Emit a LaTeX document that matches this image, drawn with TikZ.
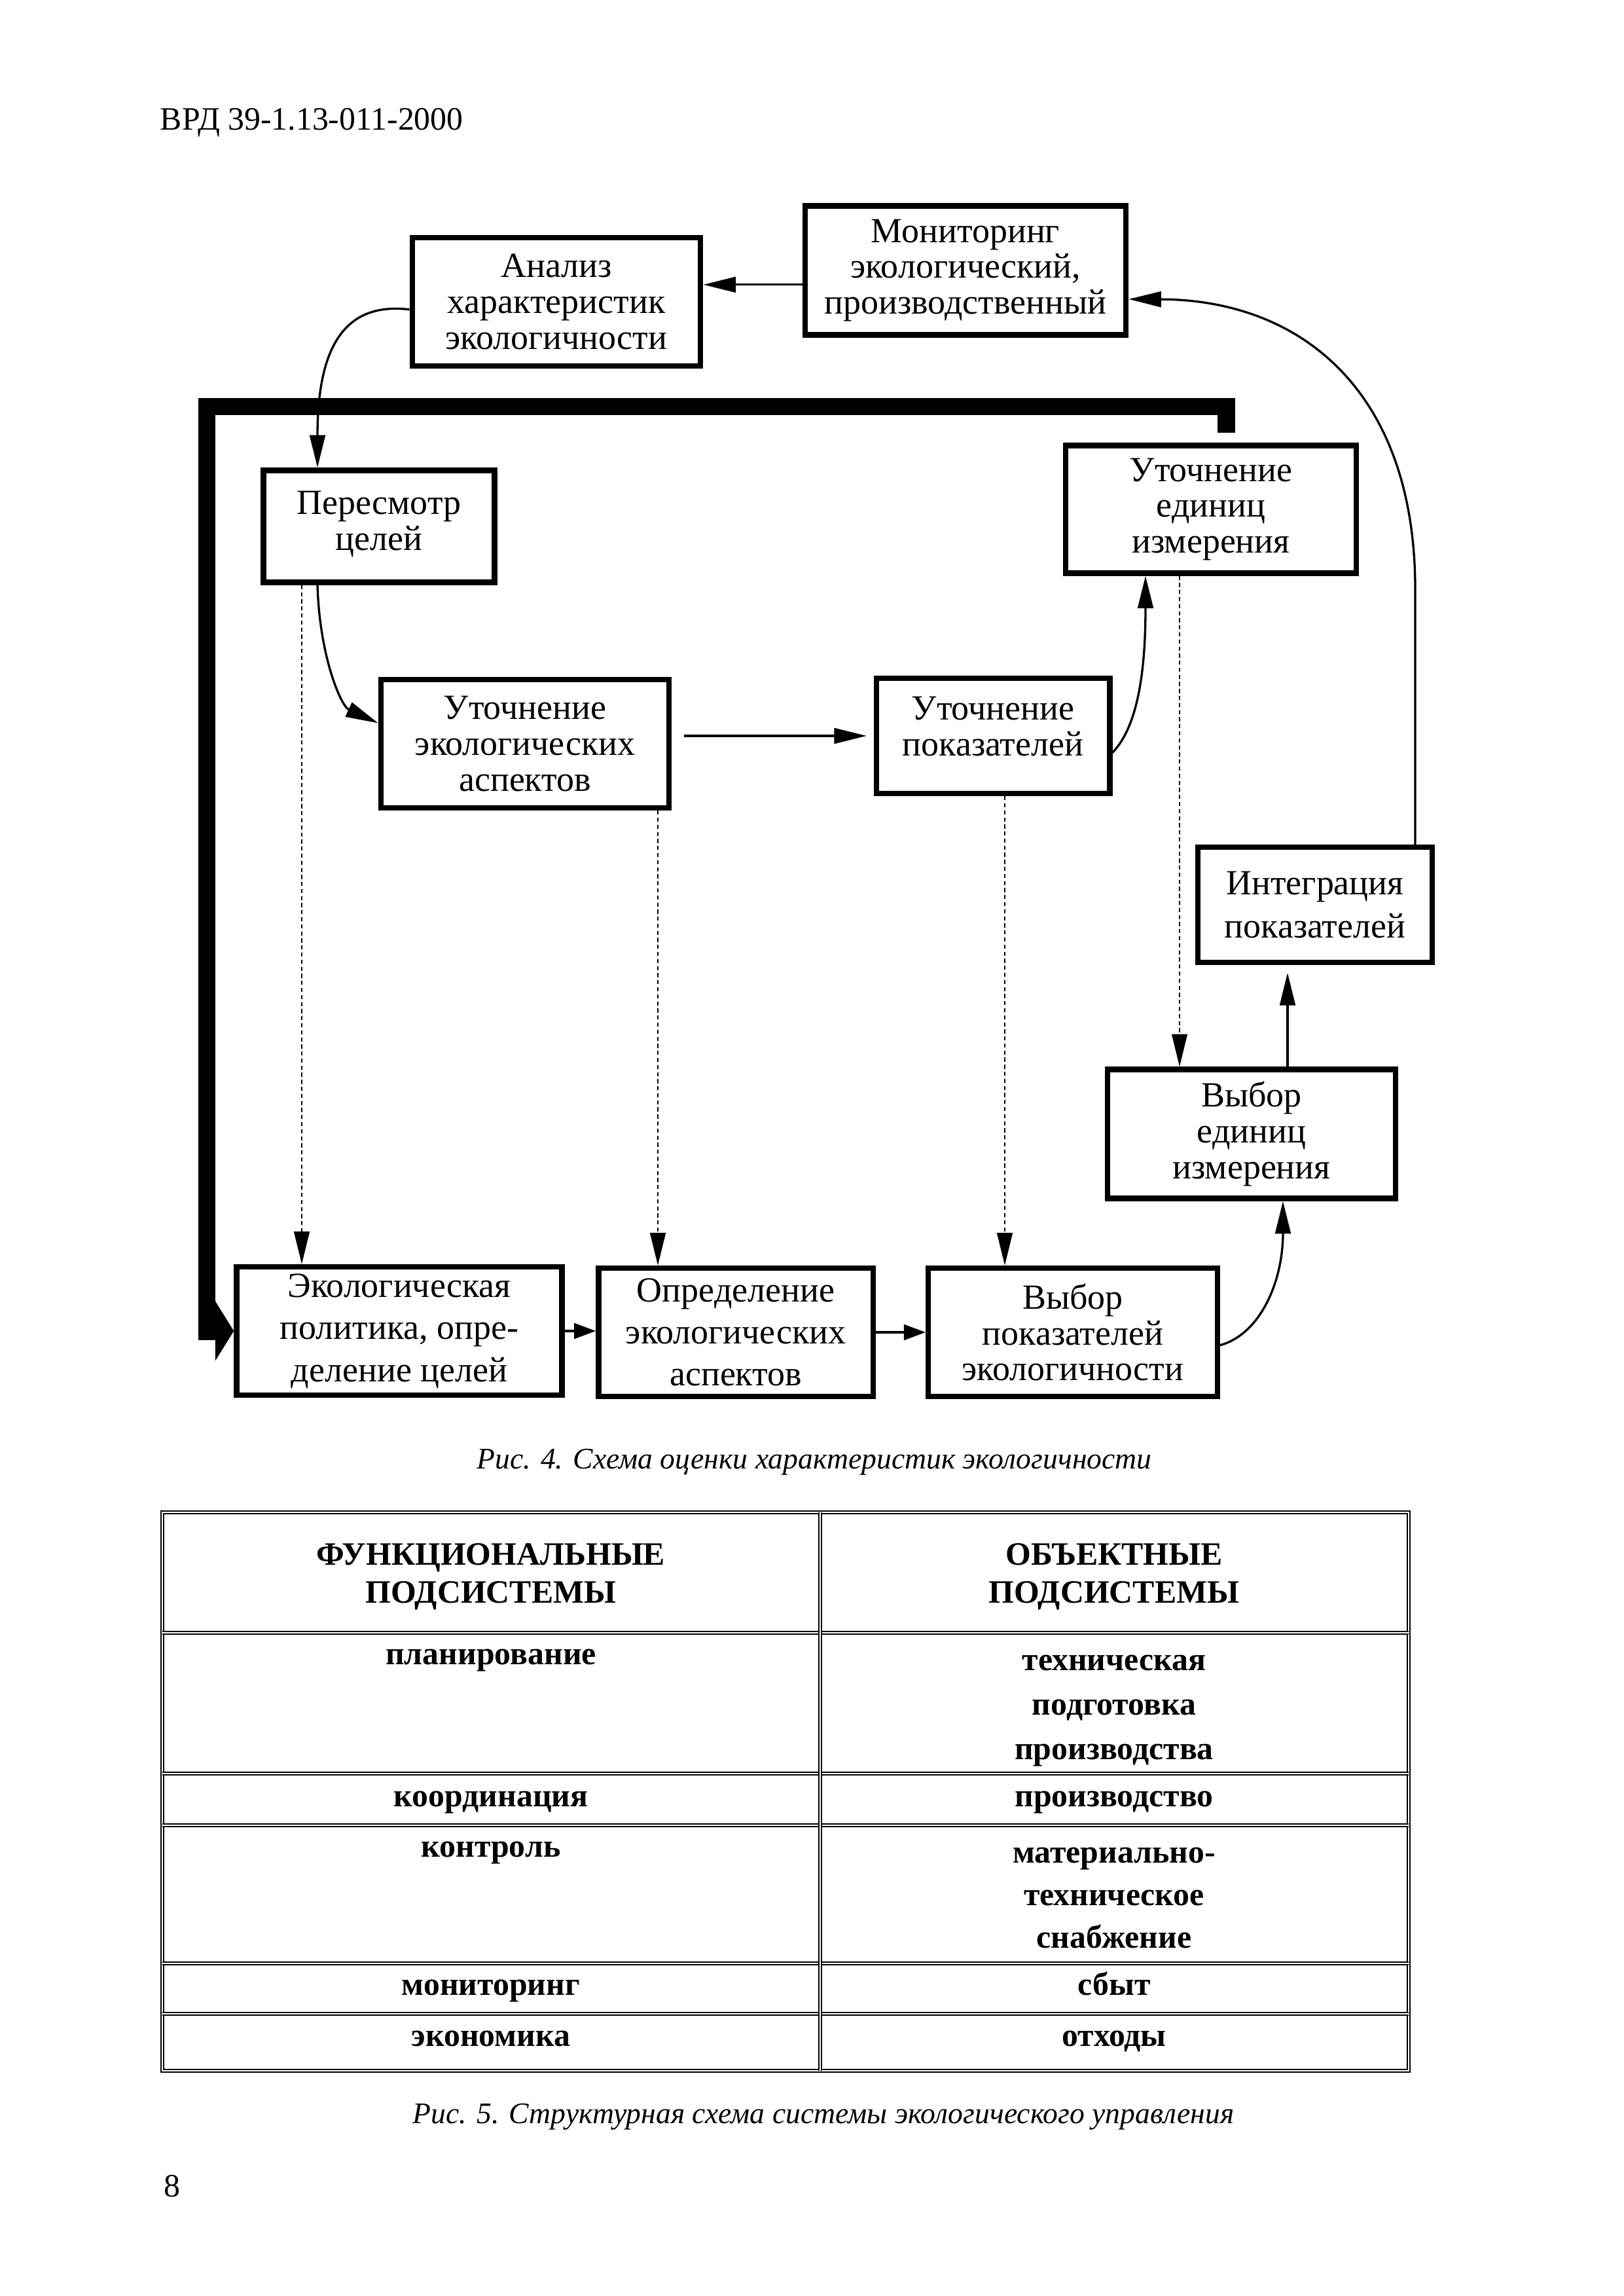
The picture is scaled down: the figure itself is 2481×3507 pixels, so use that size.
\documentclass[tikz,border=0pt]{standalone}
\usepackage{fontspec}
\setmainfont{Liberation Serif}
\usetikzlibrary{arrows.meta,calc}
\newcommand\boxfont{\fontsize{13}{13.2}\selectfont}
\tikzset{
  block/.style = {draw, line width=2pt, fill=white, rectangle, align=center, inner sep=0pt, font=\boxfont},
  link/.style = {->, line width=0.8pt},
  shortlink/.style = {-{Triangle[length=2.8mm,width=2mm]}, line width=0.8pt},
  dotlink/.style = {->, line width=0.6pt, dash pattern=on 1.5pt off 1.1pt},
  bus/.style = {-{Triangle[length=2.4mm,width=7.6mm]}, line width=6.5pt},
  grid/.style = {double, line width=0.55pt, double distance=0.55pt},
  cell/.style = {anchor=base, font=\bfseries\fontsize{12}{14}\selectfont},
  caption/.style = {anchor=base, font=\itshape\fontsize{11}{13}\selectfont},
  plain/.style = {anchor=base west, inner sep=0pt, font=\fontsize{12}{14}\selectfont},
}

\begin{document}
\begin{tikzpicture}[x=0.084667mm, y=-0.084667mm, >={Triangle[length=4.2mm,width=2mm]}]
    \useasboundingbox (0,0) rectangle (2481,3507);
    \node [plain] (doc) at (244,198) {ВРД 39-1.13-011-2000};

    % Fig. 4 boxes
    \node [block, minimum width=37.3mm, minimum height=16.6mm] (analiz) at (850,461) {Анализ\\характеристик\\экологичности};
    \node [block, minimum width=41.5mm, minimum height=16.7mm] (monitor) at (1475,413) {Мониторинг\\экологический,\\производственный};
    \node [block, minimum width=29.9mm, minimum height=14.5mm] (peresmotr) at (579,804) {Пересмотр\\целей\\[-9pt]};
    \node [block, minimum width=37.6mm, minimum height=16.5mm] (utoched) at (1850,778) {Уточнение\\единиц\\измерения};
    \node [block, minimum width=37.3mm, minimum height=16.6mm] (utochasp) at (802,1136) {Уточнение\\экологических\\аспектов};
    \node [block, minimum width=30.2mm, minimum height=14.9mm] (utochpok) at (1517,1124) {Уточнение\\показателей\\[-6pt]};
    \node [block, minimum width=30.3mm, minimum height=14.9mm] (integr) at (2009,1382) {Интеграция\\[2.5pt]показателей};
    \node [block, minimum width=37.3mm, minimum height=16.7mm] (vybored) at (1912,1732) {Выбор\\единиц\\измерения};
    \node [block, minimum width=42.1mm, minimum height=16.6mm, font=\fontsize{13}{15.5}\selectfont] (ekopol) at (610,2033) {Экологическая\\политика, опре-\\деление целей};
    \node [block, minimum width=35.5mm, minimum height=16.6mm, font=\fontsize{13}{15.5}\selectfont] (opred) at (1124,2035) {Определение\\экологических\\аспектов};
    \node [block, minimum width=37.4mm, minimum height=16.6mm] (vyborpok) at (1639,2035) {Выбор\\показателей\\экологичности};

    % x positions of the vertical links
    \coordinate (dash1) at (461,0);
    \coordinate (dash2) at (1005,0);
    \coordinate (dash3) at (1535,0);
    \coordinate (dash4) at (1802,0);
    \coordinate (in1) at (485,0);
    \coordinate (in2) at (1750,0);
    \coordinate (in3) at (1967,0);
    \coordinate (in4) at (1960,0);
    \coordinate (ret) at (2162,0);
    \coordinate (busend) at (1873,661);

    % thick feedback line
    \draw [bus] (busend) |- (316,621) |- (ekopol.west);

    \draw [link] (monitor.185) -- (monitor.185 -| analiz.east);
    \draw [link] (analiz.183) .. controls (520,460) and (485,540) .. (peresmotr.north -| in1);
    \draw [link] (peresmotr.south -| in1) .. controls (488,1000) and (520,1078) .. (utochasp.172);
    \draw [link, shorten <=1.6mm, shorten >=0.9mm] (utochasp.east |- utochpok.west) -- (utochpok.west);
    \draw [link] (utochpok.352) .. controls (1740,1108) and (in2 |- 0,1018) .. (utoched.south -| in2);
    \draw [link] (ret |- integr.north) -- (ret |- 0,900) .. controls (2162,600) and (1990,458) .. (monitor.350);
    \draw [link, shorten >=1mm] (vybored.north -| in3) -- (integr.south -| in3);
    \draw [link] (vyborpok.355) .. controls (1925,2038) and (in4 |- 0,1958) .. (vybored.south -| in4);
    \draw [shortlink] (ekopol.east) -- (ekopol.east -| opred.west);
    \draw [shortlink] (opred.east) -- (opred.east -| vyborpok.west);

    \draw [dotlink] (peresmotr.south -| dash1) -- (ekopol.north -| dash1);
    \draw [dotlink] (utochasp.south -| dash2) -- (opred.north -| dash2);
    \draw [dotlink] (utochpok.south -| dash3) -- (vyborpok.north -| dash3);
    \draw [dotlink] (utoched.south -| dash4) -- (vybored.north -| dash4);

    \node [caption] (cap4) at (1244,2243) {Рис. 4. Схема оценки характеристик экологичности};

    % Fig. 5 table
    \draw [grid] (248,2310) rectangle (2152,3163);
    \foreach \y in {2494,2709,2788,2999,3076}
        \draw [grid] (248,\y) -- (2152,\y);
    \draw [grid] (1253,2310) -- (1253,3163);
    \foreach \x/\y/\t [count=\i] in {
        750/2390/ФУНКЦИОНАЛЬНЫЕ, 750/2448/ПОДСИСТЕМЫ,
        1702/2390/ОБЪЕКТНЫЕ, 1702/2448/ПОДСИСТЕМЫ,
        750/2542/планирование,
        1702/2551/техническая, 1702/2619/подготовка, 1702/2687/производства,
        750/2759/координация, 1702/2759/производство,
        750/2836/контроль,
        1702/2845/материально-, 1702/2910/техническое, 1702/2975/снабжение,
        750/3047/мониторинг, 1702/3047/сбыт,
        750/3125/экономика, 1702/3125/отходы}
        \node [cell] (cell\i) at (\x,\y) {\t};

    \node [caption] (cap5) at (1258,3243) {Рис. 5. Структурная схема системы экологического управления};
    \node [plain] (pagenum) at (250,3355) {8};
\end{tikzpicture}
\end{document}
